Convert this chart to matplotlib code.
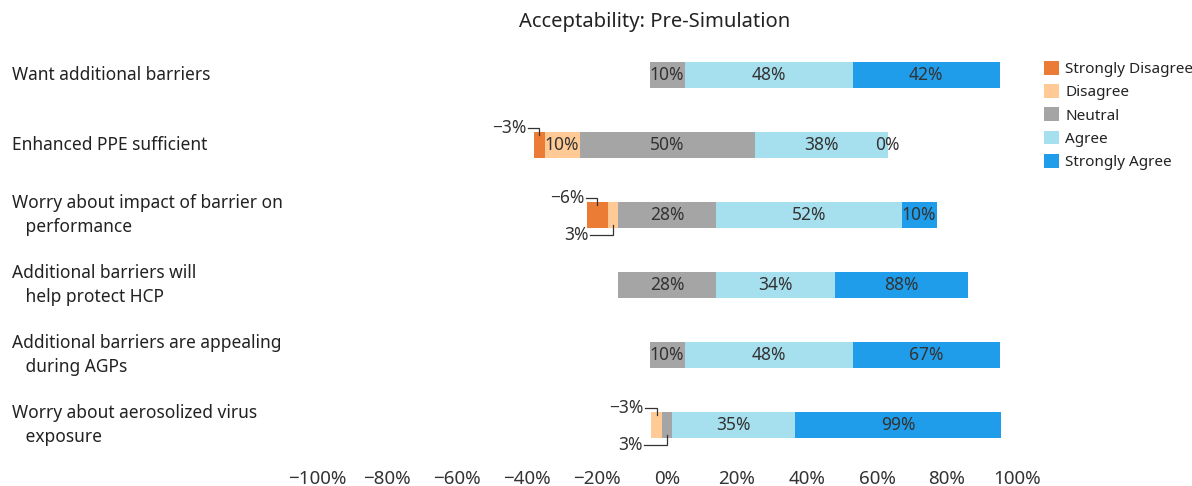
import numpy as np
import matplotlib
matplotlib.use("Agg")
import matplotlib.pyplot as plt
from matplotlib.patches import Patch
from matplotlib.transforms import blended_transform_factory

plt.rcParams['font.family'] = ['Noto Sans', 'DejaVu Sans']

# Data (percent of respondents)
questions = [
    "Want additional barriers",
    "Enhanced PPE sufficient",
    "Worry about impact of barrier on\n   performance",
    "Additional barriers will\n   help protect HCP",
    "Additional barriers are appealing\n   during AGPs",
    "Worry about aerosolized virus\n   exposure",
]
categories = ["Strongly Disagree", "Disagree", "Neutral", "Agree", "Strongly Agree"]
strongly_disagree = [0, 3, 6, 0, 0, 0]
disagree = [0, 10, 3, 0, 0, 3]
neutral = [10, 50, 28, 28, 10, 3]
agree = [48, 38, 53, 34, 48, 35]
strongly_agree = [42, 0, 10, 38, 42, 59]

# Labels as printed on the chart (not always equal to the bar widths)
labels = [
    [None, None, "10%", "48%", "42%"],
    ["\u22123%", "10%", "50%", "38%", "0%"],
    ["\u22126%", "3%", "28%", "52%", "10%"],
    [None, None, "28%", "34%", "88%"],
    [None, None, "10%", "48%", "67%"],
    [None, "\u22123%", "3%", "35%", "99%"],
]
# small segments labelled with a leader line instead of inside the bar
callouts = {(1, 0): "top", (2, 0): "top", (2, 1): "bottom",
            (5, 1): "top", (5, 2): "bottom"}

colors = ["#EB7C36", "#FFCA96", "#A5A5A5", "#A6DFEE", "#1F9DEB"]
text_color = "#333333"

widths = np.array([strongly_disagree, disagree, neutral, agree, strongly_agree], dtype=float).T
n_rows = len(questions)
y = np.arange(n_rows)

# left edge of each bar: neutral is centred on zero
starts = -(widths[:, 0] + widths[:, 1] + widths[:, 2] / 2)
lefts = starts[:, None] + np.concatenate([np.zeros((n_rows, 1)), np.cumsum(widths, axis=1)[:, :-1]], axis=1)

fig = plt.figure(figsize=(11.92, 4.86), dpi=100)
ax = fig.add_axes([317 / 1192, 26 / 486, 700 / 1192, 420 / 486])

bar_h = 0.38
for j, cat in enumerate(categories):
    ax.barh(y, widths[:, j], left=lefts[:, j], height=bar_h, color=colors[j], label=cat)

for i in range(n_rows):
    for j in range(len(categories)):
        lab = labels[i][j]
        if lab is None:
            continue
        xc = lefts[i, j] + widths[i, j] / 2
        side = callouts.get((i, j))
        if side is None:
            ax.text(xc, y[i], lab, ha="center", va="center", fontsize=12.5, color=text_color)
            continue
        if side == "top":
            yl = y[i] - bar_h / 2 - 0.06
            yb = y[i] - bar_h / 2 + 0.05
            x0 = xc - 3.2
        else:
            yl = y[i] + bar_h / 2 + 0.09
            yb = y[i] + bar_h / 2 - 0.05
            x0 = xc - 6.5
        ax.plot([x0, xc, xc], [yl, yl, yb], color=text_color, lw=0.9, solid_joinstyle="miter")
        ax.text(x0 - 0.4, yl, lab, ha="right", va="center", fontsize=12.5, color=text_color)

# question labels aligned to the figure's left edge
trans = blended_transform_factory(fig.transFigure, ax.transData)
for i, q in enumerate(questions):
    ax.text(12 / 1192, y[i], q, transform=trans, ha="left", va="center",
            fontsize=12.5, color="#222222", linespacing=1.45)

ax.set_xlim(-100, 100)
ax.set_ylim(n_rows - 0.5, -0.5)
ticks = np.arange(-100, 101, 20)
ax.set_xticks(ticks)
ax.set_xticklabels([f"{t}%".replace("-", "\u2212") for t in ticks], fontsize=13.5, color=text_color)
ax.tick_params(axis="x", length=0, pad=7)
ax.set_yticks([])
for s in ax.spines.values():
    s.set_visible(False)

fig.text(655 / 1192, 1 - 22 / 486, "Acceptability: Pre-Simulation", ha="center", va="center",
         fontsize=14.5, color="#222222")

handles = [Patch(facecolor=c, label=l) for c, l in zip(colors, categories)]
fig.legend(handles=handles, loc="upper left", bbox_to_anchor=(1044 / 1192, 1 - 61 / 486),
           frameon=False, fontsize=11, handlelength=1.0, handleheight=1.0,
           handletextpad=0.4, labelspacing=0.47, borderaxespad=0, borderpad=0,
           labelcolor="#222222")

fig.savefig("out.png", dpi=100)
